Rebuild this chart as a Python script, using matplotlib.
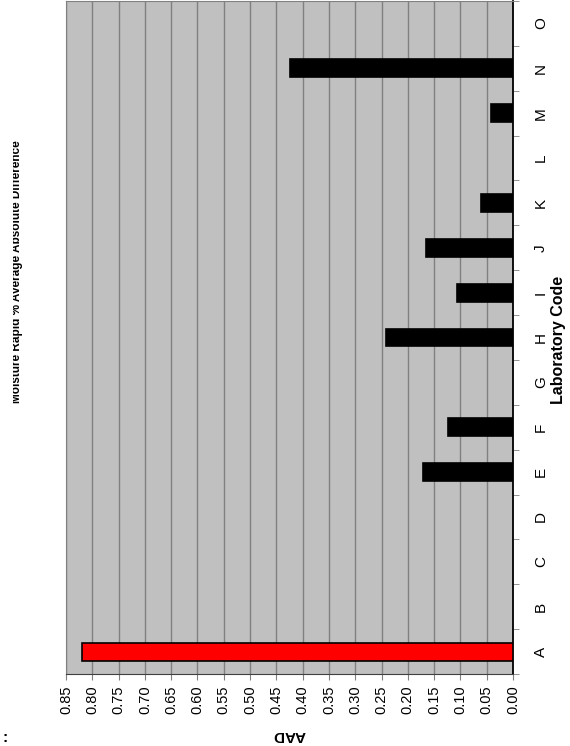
import numpy as np
import matplotlib
matplotlib.use("Agg")
import matplotlib.pyplot as plt
from matplotlib.transforms import Bbox, TransformedBbox

# Daten
labs = ["A", "B", "C", "D", "E", "F", "G", "H", "I", "J", "K", "L", "M", "N", "O"]
aad = [0.820, np.nan, np.nan, np.nan, 0.172, 0.123, np.nan, 0.242, 0.107, 0.166,
       0.060, np.nan, 0.042, 0.425, np.nan]
bar_cols = ["#FF0000"] + ["#000000"] * 14
val_ticks = np.arange(0, 0.851, 0.05)

plt.rcParams['font.family'] = ['Liberation Sans', 'DejaVu Sans']

W, H = 570, 746
fig = plt.figure(figsize=(W / 100, H / 100), dpi=100)
ax = fig.add_axes([66 / W, 1 - 674 / H, (513 - 66) / W, 673 / H])
ax.set_facecolor("#C0C0C0")

pos = np.arange(len(labs))
ax.barh(pos, aad, height=0.4, color=bar_cols, edgecolor="black", linewidth=1.2, zorder=3)

# Achsen: 0 rechts, 0.85 links
ax.set_xlim(0.85, 0)
ax.set_ylim(-0.5, len(labs) - 0.5)
ax.set_xticks(val_ticks)
ax.set_xticklabels([f"{v:.2f}" for v in val_ticks], rotation=90, fontsize=10.5)
ax.xaxis.grid(True, color="#808080", linewidth=1, zorder=1)
ax.tick_params(axis="x", direction="out", length=4, color="#808080", pad=4)

ax.yaxis.tick_right()
ax.set_yticks(pos)
ax.set_yticklabels(labs, rotation=90, fontsize=11, va="center")
ax.set_yticks(np.arange(-0.5, len(labs), 1), minor=True)
ax.tick_params(axis="y", which="major", length=0, pad=15)
ax.tick_params(axis="y", which="minor", length=4, color="#808080")

for s in ["left", "top"]:
    ax.spines[s].set_color("#808080")
ax.spines["bottom"].set_color("#404040")
ax.spines["right"].set_color("black")
ax.spines["right"].set_linewidth(1.3)

ax.set_xlabel("AAD", fontsize=11, fontweight="bold", rotation=180, labelpad=10)

# Achsentitel rechts
fig.text(559 / W, 1 - 340 / H, "Laboratory Code", rotation=90, fontsize=11.5,
         fontweight="bold", ha="center", va="center")

# Titel links, oben abgeschnitten
t = fig.text(17.5 / W, 1 - 272 / H, "Moisture Rapid % Average Absolute Difference",
             rotation=90, fontsize=8.5, fontweight="bold", ha="center", va="center")
t.set_clip_box(TransformedBbox(Bbox.from_extents(13 / W, 0, 1, 1), fig.transFigure))
t.set_clip_on(True)

fig.text(2 / W, 1 - 738 / H, ":", fontsize=11, fontweight="bold", ha="left", va="center")

fig.savefig("out.png", dpi=100)
